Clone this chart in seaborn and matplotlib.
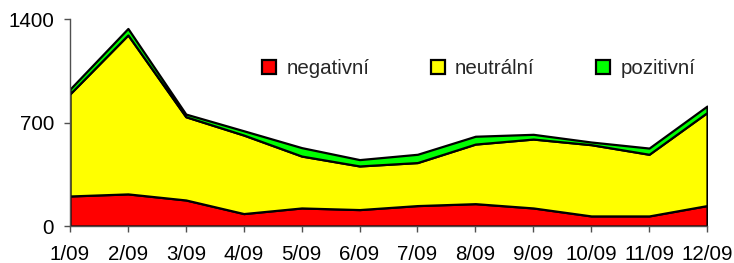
import matplotlib
matplotlib.use("Agg")
import matplotlib.pyplot as plt
import seaborn as sns
import numpy as np

months = ["1/09", "2/09", "3/09", "4/09", "5/09", "6/09", "7/09", "8/09", "9/09", "10/09", "11/09", "12/09"]
negativni = [203, 217, 176, 84, 122, 111, 138, 151, 122, 68, 68, 138]
neutralni = [691, 1075, 563, 531, 351, 295, 291, 403, 466, 482, 417, 629]
pozitivni = [32, 44, 18, 29, 57, 43, 56, 53, 32, 18, 42, 44]
labels = ["negativní", "neutrální", "pozitivní"]
colors = ["#ff0000", "#ffff00", "#00ff00"]
yticks = [0, 700, 1400]

sns.set_theme(style="white")
plt.rcParams["font.family"] = ["Liberation Sans", "DejaVu Sans"]

fig = plt.figure(figsize=(7.34, 2.63), dpi=100)
ax = fig.add_axes([70/734, 1-226/263, (707-70)/734, (226-19)/263])

x = np.arange(len(months))
polys = ax.stackplot(x, negativni, neutralni, pozitivni, labels=labels, colors=colors,
                     edgecolor="black", linewidth=1.6)

ax.set_xlim(0, len(months) - 1)
ax.set_ylim(0, 1400)
ax.set_xticks(x)
ax.set_xticklabels(months)
ax.set_yticks(yticks)
ax.tick_params(axis="both", bottom=True, left=True, labelsize=14.8, labelcolor="black",
               color="#505050", length=4.5, width=1, direction="out")
ax.tick_params(axis="x", pad=9.5)
ax.tick_params(axis="y", pad=7)
for side in ["top", "right"]:
    ax.spines[side].set_visible(False)
for side in ["left", "bottom"]:
    ax.spines[side].set_color("#505050")
    ax.spines[side].set_linewidth(1)
ax.grid(False)

leg = fig.legend(handles=polys, labels=labels, loc="center left", bbox_to_anchor=(262/734, 1-69/263),
                 ncol=3, frameon=False, fontsize=14.8, handlelength=0.68, handleheight=0.68,
                 handletextpad=0.5, columnspacing=3.0, borderpad=0, borderaxespad=0)

fig.savefig("out.png", dpi=100)
